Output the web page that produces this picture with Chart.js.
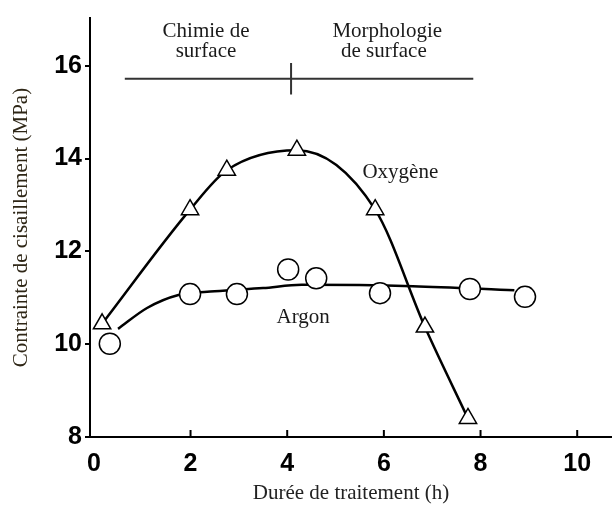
<!DOCTYPE html>
<html>
<head>
<meta charset="utf-8">
<script src="https://cdn.jsdelivr.net/npm/chart.js@4"></script>
<style>
  html, body { margin: 0; padding: 0; background: #fff; overflow: hidden; }
  #wrap { width: 612px; height: 506px; }
  canvas { display: block; }
</style>
</head>
<body>
<div id="wrap"><canvas id="shearChart"></canvas></div>
<script>
// Oxygène (triangles)
const timeOxy = [0.17, 1.99, 2.75, 4.2, 5.82, 6.85, 7.74];
const stressOxy = [10.44, 12.9, 13.75, 14.18, 12.9, 10.37, 8.4];

// Argon (cercles) + courbe lissée
const timeAr = [0.33, 1.99, 2.96, 4.02, 4.6, 5.92, 7.78, 8.92];
const stressAr = [10.01, 11.08, 11.08, 11.61, 11.42, 11.1, 11.19, 11.02];
const fitArX = [0.5, 1.1, 1.75, 2.5, 3.5, 4.3, 6.6, 8.7];
const fitArY = [10.33, 10.78, 11.06, 11.14, 11.21, 11.28, 11.25, 11.16];

// barre des régimes
const phaseX = [0.64, 7.85];
const phaseY = 15.72;
const phaseSplitX = 4.08;
const phaseSplitY = [16.06, 15.38];

const xTicks = [0, 2, 4, 6, 8, 10];
const yTicks = [8, 10, 12, 14, 16];

const toPts = (xs, ys) => xs.map((x, i) => ({x: x, y: ys[i]}));

// texte + petites graduations vers l'intérieur sur l'axe x
const extras = {
  id: 'extras',
  afterDatasetsDraw(chart) {
    const ctx = chart.ctx;
    const xs = chart.scales.x, ys = chart.scales.y;
    ctx.save();
    ctx.fillStyle = '#1a1a1a';
    ctx.textAlign = 'center';
    ctx.textBaseline = 'middle';
    ctx.font = '21px "Liberation Serif", serif';
    ctx.fillText('Chimie de', xs.getPixelForValue(2.32), 31);
    ctx.fillText('surface', xs.getPixelForValue(2.32), 51);
    ctx.fillText('Morphologie', xs.getPixelForValue(6.07), 31);
    ctx.fillText('de surface', xs.getPixelForValue(6.0), 51);
    ctx.fillText('Oxygène', xs.getPixelForValue(6.34), ys.getPixelForValue(13.71));
    ctx.fillText('Argon', xs.getPixelForValue(4.33), ys.getPixelForValue(10.57));

    ctx.strokeStyle = '#000';
    ctx.lineWidth = 2;
    const base = ys.getPixelForValue(8);
    xTicks.slice(1).forEach(v => {
      const px = xs.getPixelForValue(v);
      ctx.beginPath();
      ctx.moveTo(px, base);
      ctx.lineTo(px, base - 7);
      ctx.stroke();
    });
    ctx.restore();
  }
};

const ctx = document.getElementById('shearChart').getContext('2d');
new Chart(ctx, {
  type: 'scatter',
  data: {
    datasets: [
      {
        label: 'Oxygène',
        data: toPts(timeOxy, stressOxy),
        showLine: true,
        cubicInterpolationMode: 'monotone',
        borderColor: '#000',
        borderWidth: 2.5,
        pointStyle: 'triangle',
        pointRadius: 10,
        pointBorderWidth: 1.5,
        pointBackgroundColor: '#fff',
        pointBorderColor: '#000'
      },
      {
        label: 'Argon',
        data: toPts(timeAr, stressAr),
        showLine: false,
        pointStyle: 'circle',
        pointRadius: 10.5,
        pointBorderWidth: 1.5,
        pointBackgroundColor: '#fff',
        pointBorderColor: '#000'
      },
      {
        label: 'Argon fit',
        data: toPts(fitArX, fitArY),
        showLine: true,
        cubicInterpolationMode: 'monotone',
        borderColor: '#000',
        borderWidth: 2.5,
        pointRadius: 0
      },
      {
        label: 'phases',
        data: toPts(phaseX, [phaseY, phaseY]),
        showLine: true,
        borderColor: '#333',
        borderWidth: 2,
        pointRadius: 0
      },
      {
        label: 'split',
        data: toPts([phaseSplitX, phaseSplitX], phaseSplitY),
        showLine: true,
        borderColor: '#333',
        borderWidth: 2,
        pointRadius: 0
      }
    ]
  },
  options: {
    responsive: true,
    maintainAspectRatio: false,
    animation: false,
    layout: { autoPadding: false, padding: { top: 15, right: 0, bottom: 0, left: 0 } },
    plugins: {
      legend: { display: false },
      tooltip: { enabled: false }
    },
    scales: {
      x: {
        type: 'linear',
        min: -0.08,
        max: 10.72,
        afterBuildTicks: s => { s.ticks = xTicks.map(v => ({value: v})); },
        afterFit: s => { s.height = 69; s.paddingLeft = 0; s.paddingRight = 0; },
        border: { color: '#000', width: 2 },
        grid: { display: false },
        ticks: {
          color: '#000',
          padding: 4,
          font: { family: '"Liberation Sans", Arial, sans-serif', size: 25, weight: 'bold' }
        },
        title: {
          display: true,
          text: 'Durée de traitement (h)',
          color: '#222',
          padding: { top: 0, bottom: 0 },
          font: { family: '"Liberation Serif", serif', size: 21 }
        }
      },
      y: {
        type: 'linear',
        min: 8,
        max: 17.03,
        afterBuildTicks: s => { s.ticks = yTicks.map(v => ({value: v})); },
        afterFit: s => { s.width = 90; },
        border: { color: '#000', width: 2 },
        grid: { drawOnChartArea: false, drawTicks: true, tickLength: 5, color: '#000', lineWidth: 2 },
        ticks: {
          color: '#000',
          padding: 3,
          font: { family: '"Liberation Sans", Arial, sans-serif', size: 25, weight: 'bold' }
        },
        title: {
          display: true,
          text: 'Contrainte de cisaillement (MPa)',
          color: '#2e2616',
          padding: { top: 9, bottom: 0 },
          font: { family: '"Liberation Serif", serif', size: 21 }
        }
      }
    }
  },
  plugins: [extras]
});
</script>
</body>
</html>
